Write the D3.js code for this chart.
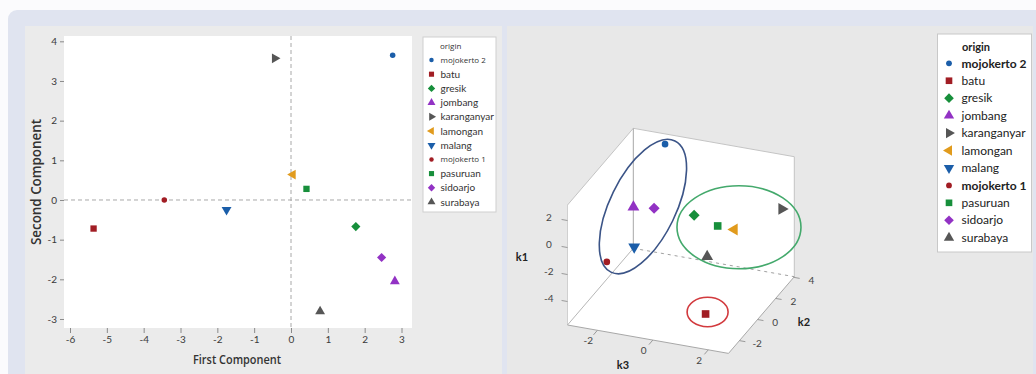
<!DOCTYPE html>
<html>
<head>
<meta charset="utf-8">
<script src="https://cdn.jsdelivr.net/npm/d3@7"></script>
<style>
  html, body { margin: 0; padding: 0; background: #ffffff; }
  svg { display: block; }
</style>
</head>
<body>
<svg id="chart" width="1036" height="374"></svg>
<script>
// ---- data -------------------------------------------------------------
const origins = ["mojokerto 2", "batu", "gresik", "jombang", "karanganyar", "lamongan",
                 "malang", "mojokerto 1", "pasuruan", "sidoarjo", "surabaya"];
const firstComponent  = [2.76, -5.36, 1.76, 2.82, -0.44, 0.05, -1.75, -3.44, 0.42, 2.46, 0.79];
const secondComponent = [3.65, -0.72, -0.67, -2.05, 3.57, 0.64, -0.25, 0.00, 0.28, -1.45, -2.81];
const thirdComponent  = [-1.80, 1.09, 0.66, -1.08, 2.44, 1.68, -1.64, -2.71, 1.20, -0.53, 1.83];

const markerColors = ["#1b5ea9", "#a11d24", "#178f3b", "#9232c4", "#565656", "#e19b1d",
                      "#1b5ea9", "#a11d24", "#178f3b", "#9232c4", "#565656"];
const markerShapes = ["circle", "square", "diamond", "up", "right", "left",
                      "down", "circle", "square", "diamond", "up"];

const xTicks  = [-6, -5, -4, -3, -2, -1, 0, 1, 2, 3];
const yTicks  = [-3, -2, -1, 0, 1, 2, 3, 4];
const k1Ticks = [-4, -2, 0, 2];
const k2Ticks = [-2, 0, 2, 4];
const k3Ticks = [-2, 0, 2];

// groups circled in the 3D view
const clusterMembers = [
  ["mojokerto 2", "jombang", "sidoarjo", "malang", "mojokerto 1"],
  ["gresik", "pasuruan", "lamongan", "karanganyar", "surabaya"],
  ["batu"]
];

// ---- helpers ------------------------------------------------------------
const svg = d3.select("#chart");
const FONT = "Lato, 'Open Sans', sans-serif";

function symbolPath(shape, size) {
  let type = d3.symbolCircle, s = size;
  if (shape === "square") type = d3.symbolSquare;
  if (shape === "diamond") { type = d3.symbolSquare; s = size * 1.05; }
  if (["up", "down", "left", "right"].includes(shape)) { type = d3.symbolTriangle; s = size * 1.05; }
  return d3.symbol().type(type).size(s)();
}
function symbolRotation(shape) {
  return { diamond: 45, right: 90, down: 180, left: -90 }[shape] || 0;
}
function drawMarker(g, i, cx, cy, size) {
  const shape = markerShapes[i];
  g.append("path")
    .attr("d", symbolPath(shape, shape === "circle" ? size * 0.6 : size))
    .attr("transform", `translate(${cx},${cy}) rotate(${symbolRotation(shape)})`)
    .attr("fill", markerColors[i]);
}

// ---- background frames --------------------------------------------------
svg.append("rect").attr("x", 0).attr("y", 0).attr("width", 1036).attr("height", 374).attr("fill", "#fbfbfd");
svg.append("rect").attr("x", 8).attr("y", 10).attr("width", 1040).attr("height", 380)
  .attr("rx", 9).attr("fill", "#e0e4f0");
svg.append("rect").attr("x", 25).attr("y", 26).attr("width", 477).attr("height", 360).attr("fill", "#ebebeb");
svg.append("rect").attr("x", 507).attr("y", 26).attr("width", 526).attr("height", 360).attr("fill", "#e8e8e8");

// ---- left: score plot ---------------------------------------------------
const left = svg.append("g");
const x = d3.scaleLinear().domain([-6.163, 3.285]).range([64, 412]);
const y = d3.scaleLinear().domain([-3.227, 4.134]).range([328, 36]);

left.append("rect").attr("x", x.range()[0]).attr("y", y.range()[1])
  .attr("width", x.range()[1] - x.range()[0]).attr("height", y.range()[0] - y.range()[1])
  .attr("fill", "#ffffff");

const xAxis = left.append("g").attr("transform", `translate(0,${y.range()[0]})`)
  .call(d3.axisBottom(x).tickValues(xTicks).tickFormat(d => String(d)).tickSize(5).tickPadding(3));
const yAxis = left.append("g").attr("transform", `translate(${x.range()[0]},0)`)
  .call(d3.axisLeft(y).tickValues(yTicks).tickFormat(d => String(d)).tickSize(4).tickPadding(3));
[xAxis, yAxis].forEach(a => {
  a.select(".domain").remove();
  a.selectAll(".tick line").attr("stroke", "#8a8a8a");
  a.selectAll(".tick text").attr("fill", "#3a3a3a").style("font", `10px ${FONT}`);
});

// reference lines through the origin
left.append("line").attr("x1", x(0)).attr("x2", x(0)).attr("y1", y.range()[1]).attr("y2", y.range()[0])
  .attr("stroke", "#a8a8a8").attr("stroke-dasharray", "4,3");
left.append("line").attr("x1", x.range()[0]).attr("x2", x.range()[1]).attr("y1", y(0)).attr("y2", y(0))
  .attr("stroke", "#a8a8a8").attr("stroke-dasharray", "4,3");

origins.forEach((o, i) => drawMarker(left, i, x(firstComponent[i]), y(secondComponent[i]), 40));

left.append("text").attr("x", 237).attr("y", 364).attr("text-anchor", "middle")
  .attr("textLength", 88).attr("lengthAdjust", "spacingAndGlyphs")
  .attr("fill", "#333").style("font", `600 13px 'Open Sans', sans-serif`).text("First Component");
left.append("text").attr("transform", "translate(41,182) rotate(-90)").attr("text-anchor", "middle")
  .attr("textLength", 126).attr("lengthAdjust", "spacingAndGlyphs")
  .attr("fill", "#333").style("font", `600 14px 'Open Sans', sans-serif`).text("Second Component");

// legend
const lg = left.append("g");
lg.append("rect").attr("x", 423).attr("y", 37).attr("width", 73).attr("height", 175)
  .attr("fill", "#ffffff").attr("stroke", "#cfcfcf");
lg.append("text").attr("x", 440).attr("y", 49).attr("fill", "#333")
  .style("font", `8px 'Open Sans', sans-serif`).text("origin");
origins.forEach((o, i) => {
  const yy = 60 + i * 14.2;
  drawMarker(lg, i, 431.5, yy, 26);
  const small = o.startsWith("mojokerto");
  lg.append("text").attr("x", 440.5).attr("y", yy + (small ? 3 : 3.5)).attr("fill", "#333")
    .style("font", small ? `8px 'Open Sans', sans-serif` : `10px ${FONT}`).text(o);
});

// ---- right: 3D view -----------------------------------------------------
const right = svg.append("g");
const s1 = d3.scaleLinear().domain([-5.74, 3.15]).range([0, 1]);   // k1, vertical
const s2 = d3.scaleLinear().domain([-3.21, 4.06]).range([0, 1]);   // k2, depth to the right
const s3 = d3.scaleLinear().domain([-3.08, 2.73]).range([0, 1]);   // k3, front-left edge
const O = [567.5, 325], V1 = [0, -120], V2 = [65.8, -76.7], V3 = [161, 28.4];
function proj(k1, k2, k3) {
  const a = s1(k1), b = s2(k2), c = s3(k3);
  return [O[0] + a * V1[0] + b * V2[0] + c * V3[0], O[1] + a * V1[1] + b * V2[1] + c * V3[1]];
}
const add = (...ps) => ps.reduce((s, p) => [s[0] + p[0], s[1] + p[1]], [0, 0]);
const P0 = O, P2 = add(O, V2), P23 = add(O, V2, V3), P3 = add(O, V3);
const P1 = add(O, V1), P21 = add(O, V2, V1), P231 = add(O, V2, V3, V1);
const poly = pts => pts.map(p => p.join(",")).join(" ");

right.append("polygon").attr("points", poly([P0, P2, P21, P1])).attr("fill", "#ffffff");
right.append("polygon").attr("points", poly([P2, P23, P231, P21])).attr("fill", "#ffffff");
right.append("polygon").attr("points", poly([P0, P2, P23, P3])).attr("fill", "#ffffff");

function seg(a, b, color, dash) {
  const l = right.append("line").attr("x1", a[0]).attr("y1", a[1]).attr("x2", b[0]).attr("y2", b[1])
    .attr("stroke", color).attr("stroke-width", 1);
  if (dash) l.attr("stroke-dasharray", dash);
}
seg(P1, P21, "#c4c4c4"); seg(P0, P1, "#d0d0d0");
seg(P21, P231, "#c4c4c4"); seg(P231, P23, "#c4c4c4");
seg(P2, P21, "#a8a8a8");
seg(P0, P2, "#b8b8b8");
seg(P2, P23, "#a0a0a0", "3,4");
seg(P0, P3, "#a8a8a8"); seg(P3, P23, "#a8a8a8");

const unit = v => { const n = Math.hypot(v[0], v[1]); return [v[0] / n, v[1] / n]; };
function axisTicks(values, posFn, dir, labelDist) {
  const u = unit(dir);
  values.forEach(v => {
    const p = posFn(v);
    seg(p, [p[0] + u[0] * 6, p[1] + u[1] * 6], "#9a9a9a");
    right.append("text").attr("x", p[0] + u[0] * labelDist).attr("y", p[1] + u[1] * labelDist + 3.5)
      .attr("text-anchor", "middle").attr("fill", "#444").style("font", `10px ${FONT}`).text(String(v));
  });
}
axisTicks(k1Ticks, v => proj(v, s2.domain()[0], s3.domain()[0]), [-V3[0], -V3[1]], 19);
axisTicks(k3Ticks, v => proj(s1.domain()[0], s2.domain()[0], v), [-V2[0], -V2[1]], 14);
axisTicks(k2Ticks, v => proj(s1.domain()[0], v, s3.domain()[1]), V3, 18);

const axisTitle = (tx, ty, t) => right.append("text").attr("x", tx).attr("y", ty).attr("text-anchor", "middle")
  .attr("fill", "#222").style("font", `bold 11px ${FONT}`).text(t);
axisTitle(522, 261, "k1");
axisTitle(623, 369, "k3");
axisTitle(804, 326, "k2");

const projected = origins.map((o, i) => proj(firstComponent[i], secondComponent[i], thirdComponent[i]));
origins.forEach((o, i) => drawMarker(right, i, projected[i][0], projected[i][1], 58));

// ellipses around each group, centred on the group's extent
const ellipseStyles = [
  { color: "#3b5487", rx: 73, ry: 33, angle: -64, dx: 7, dy: 3.5 },
  { color: "#44a96c", rx: 62, ry: 41.5, angle: 0, dx: 1, dy: -5.5 },
  { color: "#d23a3e", rx: 20.5, ry: 14.7, angle: 0, dx: 2, dy: -2 }
];
clusterMembers.forEach((members, k) => {
  const pts = members.map(m => projected[origins.indexOf(m)]);
  const ex = d3.extent(pts, p => p[0]), ey = d3.extent(pts, p => p[1]);
  const st = ellipseStyles[k];
  const cx = (ex[0] + ex[1]) / 2 + st.dx, cy = (ey[0] + ey[1]) / 2 + st.dy;
  right.append("ellipse").attr("cx", 0).attr("cy", 0).attr("rx", st.rx).attr("ry", st.ry)
    .attr("transform", `translate(${cx},${cy}) rotate(${st.angle})`)
    .attr("fill", "none").attr("stroke", st.color).attr("stroke-width", 1.6);
});

// legend
const rg = right.append("g");
rg.append("rect").attr("x", 937.5).attr("y", 34).attr("width", 94).attr("height", 218)
  .attr("fill", "#ffffff").attr("stroke", "#c8c8c8");
rg.append("text").attr("x", 962).attr("y", 50.5).attr("fill", "#222")
  .style("font", `bold 11px ${FONT}`).text("origin");
origins.forEach((o, i) => {
  const yy = 63.3 + i * 17.44;
  drawMarker(rg, i, 949, yy, 44);
  const strong = o.startsWith("mojokerto");
  rg.append("text").attr("x", 961.5).attr("y", yy + 4.2).attr("fill", "#222")
    .style("font", `${strong ? "bold " : ""}12px ${FONT}`).text(o);
});
</script>
</body>
</html>
